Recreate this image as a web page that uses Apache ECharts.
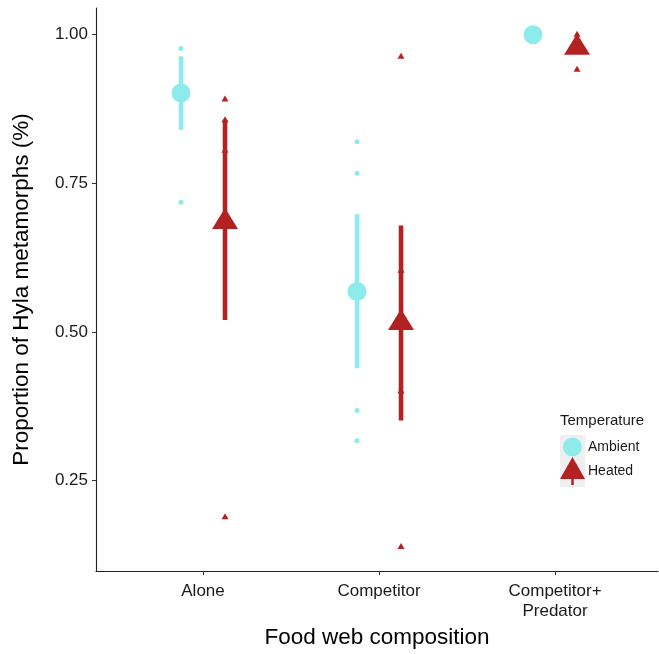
<!DOCTYPE html>
<html>
<head>
<meta charset="utf-8">
<script src="https://cdn.jsdelivr.net/npm/echarts@6/dist/echarts.min.js"></script>
<style>
html,body{margin:0;padding:0;background:#fff;}
#chart{width:659px;height:654px;}
</style>
</head>
<body>
<div id="chart"></div>
<script>
// ---- data ----
const categories = ['Alone', 'Competitor', 'Competitor+\nPredator'];
const yTicks = [0.25, 0.50, 0.75, 1.00];

const ambientMean = [0.902, 0.568, 1.000];
const ambientLow  = [0.840, 0.439, 1.000];
const ambientHigh = [0.962, 0.698, 1.000];

const heatedMean = [0.685, 0.515, 0.978];
const heatedLow  = [0.520, 0.351, 0.978];
const heatedHigh = [0.856, 0.679, 0.978];

const ambientPoints = [
  [0.977, 0.960, 0.718],
  [0.820, 0.767, 0.368, 0.317],
  [1.000]
];
const heatedPoints = [
  [0.891, 0.856, 0.805, 0.188],
  [0.963, 0.603, 0.400, 0.138],
  [1.000, 0.941]
];

// ---- styling / layout ----
const AMB = '#8EEBEC';
const HEAT = '#B22222';
const FONT = "'Liberation Sans', Arial, sans-serif";
const dodge = 0.125;

function xPos(i, d) { return i + 1 + d; }

function rangeData(low, high, d) {
  return low.map((l, i) => [xPos(i, d), l, high[i]]);
}
function meanData(m, d) {
  return m.map((v, i) => [xPos(i, d), v]);
}
function pointData(pts, d) {
  const out = [];
  pts.forEach((arr, i) => arr.forEach(v => out.push([xPos(i, d), v])));
  return out;
}

function errRender(color) {
  return function (params, api) {
    const x = api.value(0);
    const p1 = api.coord([x, api.value(1)]);
    const p2 = api.coord([x, api.value(2)]);
    return {
      type: 'line',
      shape: { x1: p1[0], y1: p1[1], x2: p2[0], y2: p2[1] },
      style: { stroke: color, lineWidth: 4.6, lineCap: 'butt' }
    };
  };
}

const chart = echarts.init(document.getElementById('chart'), null, { renderer: 'canvas' });

const option = {
  backgroundColor: '#ffffff',
  animation: false,
  textStyle: { fontFamily: FONT },
  grid: { left: 96, right: 1, top: 8, bottom: 80, containLabel: false },
  xAxis: {
    type: 'value',
    min: 0.392,
    max: 3.585,
    name: 'Food web composition',
    nameLocation: 'middle',
    nameGap: 51,
    nameTextStyle: { fontSize: 22.5, color: '#000', fontFamily: FONT },
    axisLine: { show: true, lineStyle: { color: '#222', width: 1.1 } },
    axisTick: { show: true, length: 4, lineStyle: { color: '#333' }, customValues: [1, 2, 3] },
    axisLabel: {
      customValues: [1, 2, 3],
      formatter: v => categories[Math.round(v) - 1] || '',
      fontSize: 17, lineHeight: 20, color: '#1a1a1a', margin: 10, fontFamily: FONT
    },
    splitLine: { show: false }
  },
  yAxis: {
    type: 'value',
    min: 0.0976,
    max: 1.045,
    name: 'Proportion of Hyla metamorphs (%)',
    nameLocation: 'middle',
    nameGap: 63,
    nameRotate: 90,
    nameTextStyle: { fontSize: 22.5, color: '#000', fontFamily: FONT },
    axisLine: { show: true, lineStyle: { color: '#222', width: 1.1 } },
    axisTick: { show: true, length: 4, lineStyle: { color: '#333' }, customValues: yTicks },
    axisLabel: {
      customValues: yTicks,
      formatter: v => v.toFixed(2),
      fontSize: 17, color: '#1a1a1a', margin: 8, fontFamily: FONT
    },
    splitLine: { show: false }
  },
  series: [
    {
      name: 'Ambient', type: 'scatter', symbol: 'circle', symbolSize: 5,
      itemStyle: { color: AMB, opacity: 1 }, data: pointData(ambientPoints, -dodge), z: 2
    },
    {
      name: 'Heated', type: 'scatter', symbol: 'triangle', symbolSize: [7, 6], symbolOffset: [0, -1],
      itemStyle: { color: HEAT, opacity: 1 }, data: pointData(heatedPoints, dodge), z: 2
    },
    {
      name: 'Ambient', type: 'custom', renderItem: errRender(AMB),
      data: rangeData(ambientLow, ambientHigh, -dodge), encode: { x: 0, y: [1, 2] }, z: 3
    },
    {
      name: 'Heated', type: 'custom', renderItem: errRender(HEAT),
      data: rangeData(heatedLow, heatedHigh, dodge), encode: { x: 0, y: [1, 2] }, z: 3
    },
    {
      name: 'Ambient', type: 'scatter', symbol: 'circle', symbolSize: 19,
      itemStyle: { color: AMB, opacity: 1 }, data: meanData(ambientMean, -dodge), z: 4
    },
    {
      name: 'Heated', type: 'scatter', symbol: 'triangle', symbolSize: [26, 21], symbolOffset: [0, -3.5],
      itemStyle: { color: HEAT, opacity: 1 }, data: meanData(heatedMean, dodge), z: 4
    }
  ],
  graphic: [
    { type: 'text', left: 560, top: 413, style: { text: 'Temperature', fontSize: 15, fill: '#1a1a1a', fontFamily: FONT } },
    { type: 'rect', shape: { x: 560, y: 435, width: 25, height: 52 }, style: { fill: '#EFEFEF' } },
    { type: 'circle', shape: { cx: 572.5, cy: 447, r: 9.5 }, style: { fill: AMB } },
    { type: 'line', shape: { x1: 572.5, y1: 470, x2: 572.5, y2: 485 }, style: { stroke: HEAT, lineWidth: 2.5 } },
    { type: 'polygon', shape: { points: [[572.5, 457], [585, 479], [560, 479]] }, style: { fill: HEAT } },
    { type: 'text', left: 588, top: 440, style: { text: 'Ambient', fontSize: 14, fill: '#1a1a1a', fontFamily: FONT } },
    { type: 'text', left: 588, top: 464, style: { text: 'Heated', fontSize: 14, fill: '#1a1a1a', fontFamily: FONT } }
  ]
};

chart.setOption(option);
</script>
</body>
</html>
